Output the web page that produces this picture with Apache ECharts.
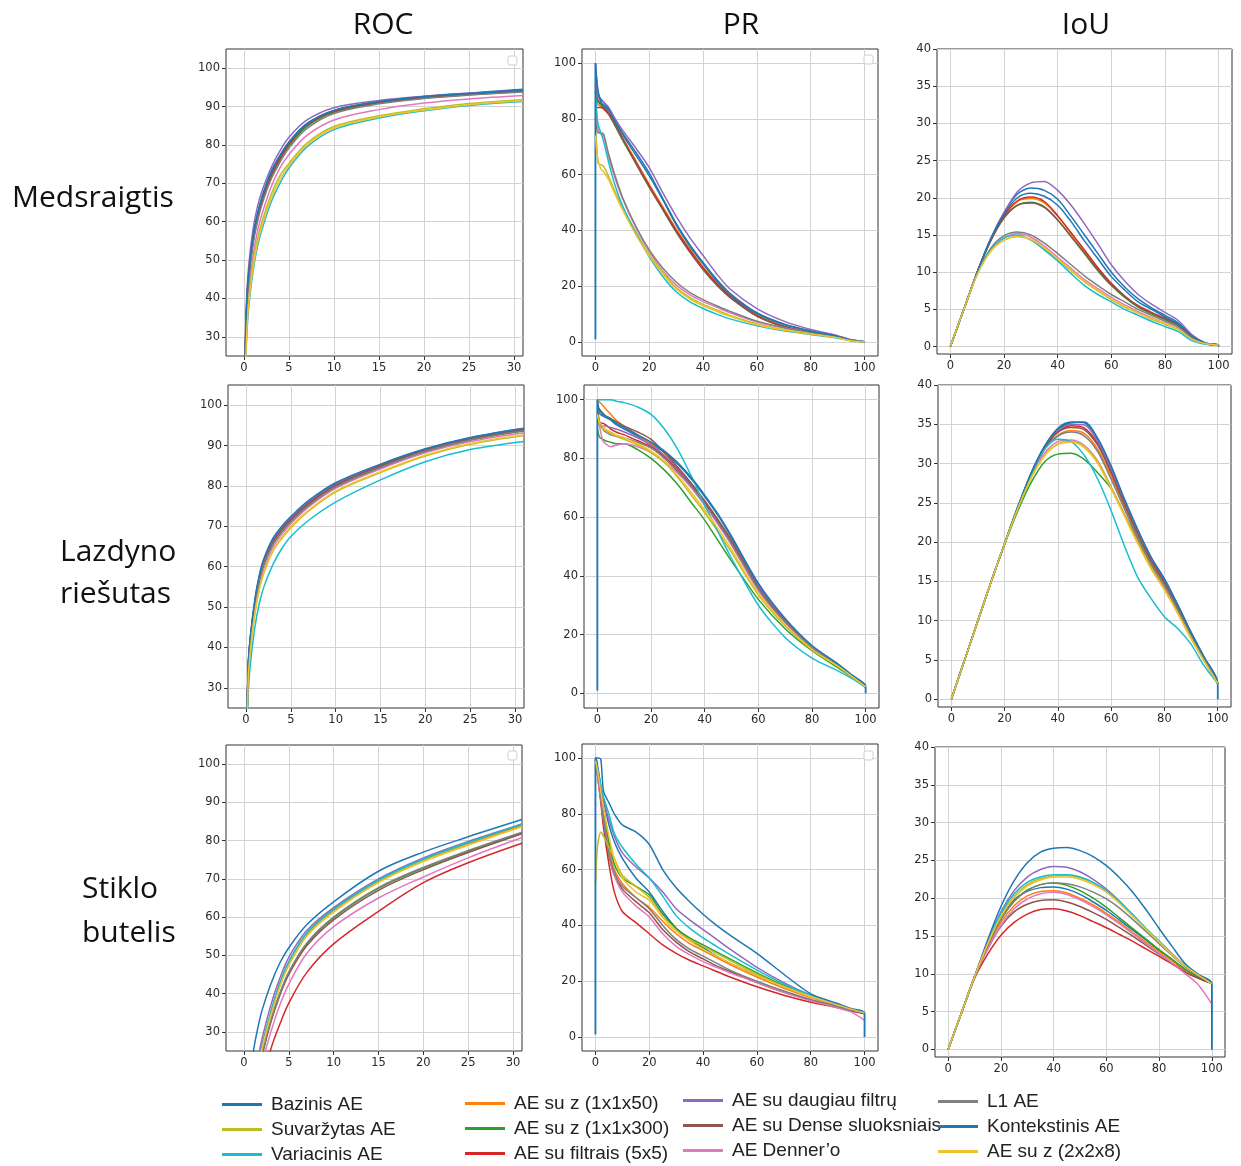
<!DOCTYPE html>
<html>
<head>
<meta charset="utf-8">
<script src="https://cdn.jsdelivr.net/npm/echarts@6/dist/echarts.min.js"></script>
<style>
  html, body { margin: 0; padding: 0; background: #fff; }
  #chart { width: 1241px; height: 1166px; }
</style>
</head>
<body>
<div id="chart"></div>
<script>
// series order follows the matplotlib colour cycle
const seriesNames = ['Bazinis AE', 'AE su z (1x1x50)', 'AE su z (1x1x300)', 'AE su filtrais (5x5)',
    'AE su daugiau filtrų', 'AE su Dense sluoksniais', 'AE Denner’o', 'L1 AE',
    'Suvaržytas AE', 'Variacinis AE', 'Kontekstinis AE', 'AE su z (2x2x8)'];
const seriesColors = ['#1f77b4', '#ff7f0e', '#2ca02c', '#d62728', '#9467bd', '#8c564b',
    '#e377c2', '#7f7f7f', '#bcbd22', '#17becf', '#1f77b4', '#f2c12e'];

const legendColumns = [
    ['Bazinis AE', 'Suvaržytas AE', 'Variacinis AE'],
    ['AE su z (1x1x50)', 'AE su z (1x1x300)', 'AE su filtrais (5x5)'],
    ['AE su daugiau filtrų', 'AE su Dense sluoksniais', 'AE Denner’o'],
    ['L1 AE', 'Kontekstinis AE', 'AE su z (2x2x8)']
];

const colTitles = ['ROC', 'PR', 'IoU'];
const rowTitles = [['Medsraigtis'], ['Lazdyno', 'riešutas'], ['Stiklo', 'butelis']];

// x samples of each metric
const rocX = [0, 0.25, 0.5, 1, 1.5, 2, 3, 4, 5, 7, 10, 15, 20, 25, 31];
const prX = [0, 0, 0.5, 1, 2, 3, 5, 7, 10, 15, 20, 25, 30, 35, 40, 45, 50, 60, 70, 80, 90, 95, 100, 100];
const iouX = [0, 5, 10, 15, 20, 25, 30, 35, 40, 45, 50, 55, 60, 65, 70, 75, 80, 85, 90, 95, 100, 100];

// tick labels
const rocTicksX = [0, 5, 10, 15, 20, 25, 30];
const rocTicksY = [30, 40, 50, 60, 70, 80, 90, 100];
const pctTicks = [0, 20, 40, 60, 80, 100];
const iouTicksY = [0, 5, 10, 15, 20, 25, 30, 35, 40];

// ---- Medsraigtis ----
const rocMedsraigtis = [
    [9, 36, 46, 56, 62, 66.5, 73, 77.3, 80.8, 85.6, 89, 91.3, 92.6, 93.5, 94.5],
    [8, 35, 45, 55, 61, 65.5, 72, 76.5, 80, 85, 88.7, 91, 92.3, 93.2, 94],
    [8, 34, 44.5, 54.5, 60.5, 65, 71.5, 76, 79.7, 84.8, 88.5, 90.9, 92.2, 93.1, 93.9],
    [8, 35, 45, 55, 61, 65.5, 72, 76.5, 80.2, 85.2, 88.8, 91.1, 92.4, 93.2, 94],
    [10, 38, 48, 58, 64, 68, 74, 78.5, 82, 86.5, 89.7, 91.6, 92.7, 93.5, 94.3],
    [9, 35.5, 45.5, 55.5, 61.5, 66, 72.5, 77, 80.5, 85.3, 88.9, 91.2, 92.5, 93.3, 94.1],
    [6, 31, 41, 51, 57.5, 62, 69, 74, 77.5, 82.5, 86.5, 89.2, 90.9, 92, 92.9],
    [8, 34, 44, 54, 60, 64.5, 71, 75.5, 79.2, 84.3, 88.2, 90.7, 92.1, 93, 93.8],
    [5, 29, 39, 49, 55.5, 60, 67, 72, 75.2, 80.5, 84.8, 87.6, 89.4, 90.8, 91.8],
    [4, 27, 37, 47, 53.5, 58, 65, 70, 74, 79.5, 84, 87, 88.9, 90.3, 91.3],
    [9, 36, 46, 56, 62, 66.3, 72.8, 77.2, 80.7, 85.5, 89, 91.3, 92.6, 93.4, 94.3],
    [5, 28, 38, 48, 54.5, 59, 66, 71, 74.6, 80, 84.4, 87.3, 89.1, 90.5, 91.5]
];
const prMedsraigtis = [
    [1, 100, 93, 89, 87, 86, 83.5, 80, 75, 68, 60.5, 51.5, 42.5, 35, 28.5, 22.5, 17.5, 10.5, 6.5, 4, 2.1, 0.7, 0.1, 0],
    [null, 88, 86, 85, 84.5, 84, 82, 79, 73.5, 65, 56.5, 48.5, 40.5, 33.5, 27, 21.5, 17, 9.8, 5.8, 3.5, 1.8, 0.6, 0.1, null],
    [null, 90, 87, 86, 85, 84, 81.5, 78, 72.5, 64, 55.5, 47.5, 39.5, 32.5, 26, 20.5, 16, 9.3, 5.5, 3.3, 1.7, 0.6, 0.1, null],
    [null, 84, 84, 84, 84, 83.5, 81.5, 78.5, 73, 64.5, 56, 48, 40, 33, 26.5, 21, 16.5, 9.5, 5.6, 3.4, 1.7, 0.6, 0.1, null],
    [null, 100, 92, 88, 86.5, 86, 84, 80.5, 76, 69.5, 62.5, 53.5, 45, 37.5, 31, 24.5, 19, 12, 7.5, 4.5, 2.3, 0.8, 0.1, null],
    [null, 92, 88, 86.5, 85.5, 84.5, 82, 78.5, 73, 64, 55.5, 47.5, 39.5, 32.3, 26, 20.5, 16, 9.3, 5.5, 3.3, 1.7, 0.6, 0.1, null],
    [null, 85, 80, 76, 74.5, 74, 66, 59.5, 51.5, 41, 32.5, 25.5, 20.5, 17, 14.5, 12.5, 10.5, 7.2, 5, 3.3, 1.7, 0.5, 0.1, null],
    [null, 80, 76, 75, 75, 74.5, 67, 60.5, 52, 41.5, 33, 26.5, 21.5, 17.8, 15.2, 13, 11, 7.5, 5.2, 3.4, 1.8, 0.6, 0.1, null],
    [null, 76, 70, 64, 63.5, 63, 59, 54.5, 48.5, 39.5, 31.5, 25, 19.5, 16, 13.5, 11.5, 9.5, 6.5, 4.5, 3, 1.6, 0.5, 0.1, null],
    [null, 90, 82, 78, 75, 72, 64, 57, 49, 39, 30.5, 23.5, 18, 14.5, 12, 10, 8.3, 5.8, 4, 2.7, 1.4, 0.5, 0.1, null],
    [1, 100, 94, 90, 86, 85, 83, 79.5, 74.5, 67, 59.5, 51, 42, 34.5, 28, 22, 17, 10.2, 6.3, 3.9, 2, 0.7, 0.1, 0],
    [null, 74, 68, 65, 62, 61, 58, 53.5, 47.5, 38.5, 31, 24.5, 19, 15.5, 13, 11, 9.2, 6.2, 4.3, 2.9, 1.5, 0.5, 0.1, null]
];
const iouMedsraigtis = [
    [0, 5, 10, 14.5, 18, 20.5, 21.3, 21, 19.8, 17.5, 15, 12.5, 10, 8, 6.4, 5.2, 4.2, 3.2, 1.5, 0.5, 0.2, 0],
    [0, 5, 10, 14.3, 17.5, 19.5, 19.9, 19.3, 17.5, 15.2, 12.9, 10.5, 8.4, 6.7, 5.4, 4.5, 3.7, 2.9, 1.3, 0.4, 0.2, null],
    [0, 5, 10, 14.2, 17.3, 19, 19.4, 18.8, 17, 14.8, 12.5, 10.2, 8.2, 6.6, 5.3, 4.4, 3.6, 2.8, 1.2, 0.4, 0.2, null],
    [0, 5, 10, 14.3, 17.6, 19.6, 20.1, 19.5, 17.6, 15.3, 13, 10.6, 8.5, 6.8, 5.5, 4.6, 3.8, 3, 1.3, 0.4, 0.2, null],
    [0, 5, 10, 14.5, 18, 20.8, 22, 22.2, 21, 19, 16.5, 13.8, 11, 8.8, 7, 5.7, 4.6, 3.5, 1.6, 0.5, 0.2, null],
    [0, 5, 10, 14.2, 17.3, 19, 19.3, 18.7, 17, 14.8, 12.6, 10.3, 8.3, 6.7, 5.4, 4.5, 3.7, 2.9, 1.3, 0.4, 0.2, null],
    [0, 5, 9.8, 13, 14.6, 15.2, 14.7, 13.5, 12, 10.5, 9, 7.8, 6.6, 5.6, 4.7, 3.9, 3.1, 2.4, 1.1, 0.4, 0.2, null],
    [0, 5, 9.8, 13.2, 14.9, 15.4, 15, 13.9, 12.5, 11, 9.5, 8.2, 7, 6, 5, 4.2, 3.4, 2.6, 1.2, 0.4, 0.2, null],
    [0, 5, 9.7, 12.8, 14.3, 14.8, 14.4, 13.2, 11.7, 10.2, 8.7, 7.5, 6.3, 5.3, 4.5, 3.7, 3, 2.3, 1, 0.4, 0.2, null],
    [0, 5, 9.8, 13, 14.6, 15, 14.3, 13, 11.5, 9.8, 8.2, 7, 6, 5, 4.2, 3.4, 2.7, 2, 0.8, 0.3, 0.2, null],
    [0, 5, 10, 14.4, 17.8, 20, 20.6, 20.2, 19, 16.8, 14.2, 11.8, 9.4, 7.6, 6, 5, 4, 3, 1.4, 0.5, 0.2, 0],
    [0, 5, 9.7, 12.8, 14.3, 14.8, 14.4, 13.3, 11.8, 10.3, 8.8, 7.6, 6.4, 5.4, 4.5, 3.8, 3.1, 2.3, 1, 0.4, 0.2, null]
];

// ---- Lazdyno riešutas ----
const rocLazdyno = [
    [5, 35, 42.5, 51.5, 57.5, 61.5, 66.5, 69.5, 72, 76, 80.5, 85.2, 89.1, 91.9, 94.2],
    [5, 34.5, 42, 51, 57, 61, 66, 69, 71.5, 75.5, 80, 84.8, 88.8, 91.6, 93.9],
    [5, 34, 41.5, 50.5, 56.5, 60.5, 65.5, 68.6, 71, 75, 79.6, 84.4, 88.4, 91.3, 93.6],
    [5, 35, 42, 51, 57, 61, 66, 69, 71.5, 75.6, 80.1, 84.9, 88.9, 91.7, 94],
    [5, 35, 42.5, 51.5, 57.5, 61.5, 66.5, 69.6, 72, 76, 80.4, 85.1, 89, 91.8, 94.1],
    [5, 34.5, 42, 51, 57, 61, 66, 69.2, 71.7, 75.7, 80.2, 85, 88.9, 91.7, 94],
    [4, 33, 40.5, 49.5, 55.5, 59.5, 64.8, 68, 70.6, 74.8, 79.4, 84.2, 88.2, 91, 93.2],
    [5, 34, 41.5, 50.5, 56.5, 60.5, 65.5, 68.7, 71.2, 75.2, 79.8, 84.6, 88.6, 91.4, 93.7],
    [4, 32, 39.5, 48.5, 54.5, 58.5, 63.8, 67, 69.6, 73.8, 78.5, 83.3, 87.4, 90.3, 92.5],
    [3, 28, 36, 45, 51, 55, 60.5, 64.5, 67.5, 71.5, 76, 81.5, 86, 89, 91],
    [5, 35.5, 43, 52, 58, 62, 67, 70, 72.4, 76.4, 80.8, 85.4, 89.2, 92, 94.3],
    [4, 32, 39.5, 48.5, 54.5, 58.5, 64, 67.3, 69.9, 74, 78.7, 83.5, 87.6, 90.5, 92.7]
];
const prLazdyno = [
    [1, 100, 96, 95, 94.5, 94, 93, 91.5, 90, 87.5, 85, 82, 78, 73, 67, 60.5, 53, 37, 25, 16, 9.5, 6, 2.5, 0],
    [null, 100, 99.5, 99, 98, 97, 95, 93, 91, 88, 85, 81, 76.5, 71.5, 65.5, 59, 52, 36, 24.5, 15.5, 9.3, 5.8, 2.3, null],
    [null, 90, 88, 87, 86.5, 86, 85.5, 85, 85, 83, 80, 76, 71, 65, 59, 52, 45, 32, 22, 14.5, 8.5, 5.5, 2, null],
    [null, 95, 93, 92, 92, 91.5, 90, 89, 88, 86, 84, 80.5, 76, 71, 65, 58.5, 51.5, 36, 24.5, 15.5, 9.3, 5.8, 2.3, null],
    [null, 96, 93, 92, 91, 91, 90.5, 90, 89, 87, 84.5, 81, 76.5, 71.5, 65.5, 59, 52, 36.5, 25, 15.8, 9.5, 6, 2.4, null],
    [null, 98, 97, 96.5, 95.5, 94.5, 93.5, 92.5, 91, 89, 86.5, 82, 77, 71.5, 65.5, 59, 52, 36, 24.5, 15.5, 9.3, 5.8, 2.3, null],
    [null, 93, 92, 90, 86, 85, 84, 84.5, 85, 84, 82, 79, 75, 70, 64, 57.5, 50.5, 35, 24, 15.5, 9.3, 5.8, 2.2, null],
    [null, 97, 94, 92, 90, 89, 88, 87.5, 87, 85.5, 83.5, 80, 75.5, 70.5, 64.5, 58, 51, 35.5, 24.2, 15.5, 9.3, 5.8, 2.3, null],
    [null, 94, 92, 91, 90, 89.5, 88.5, 87.5, 86.5, 84.5, 82, 78.5, 73.5, 67.5, 61.5, 55, 48, 33.5, 23, 14.8, 9, 5.6, 2.2, null],
    [null, 100, 100, 100, 100, 100, 100, 99.5, 99, 97.5, 95, 90, 83, 74, 64, 55, 46, 30, 19, 12, 7.5, 5, 2, null],
    [1, 100, 97, 96, 95, 94.5, 93.5, 92, 90.5, 88, 85.5, 82.5, 78.5, 73.5, 67.5, 61, 53.5, 37.5, 25.5, 16.3, 9.8, 6.2, 2.5, 0],
    [null, 95, 93, 92, 91, 90, 89, 88, 87, 85, 82.5, 79, 74, 68.5, 62.5, 56, 49, 34, 23.5, 15, 9, 5.7, 2.2, null]
];
const iouLazdyno = [
    [0, 5, 10, 15, 19.8, 24.5, 28.8, 32.2, 34.5, 35.3, 35.2, 33, 29.5, 25.3, 21.5, 18, 15.3, 12, 8.5, 5.3, 2, 0],
    [0, 5, 10, 15, 19.8, 24.5, 28.6, 31.8, 33.6, 34.2, 33.8, 31.8, 28.4, 24.5, 20.8, 17.4, 14.6, 11.5, 8.2, 5, 2, null],
    [0, 5, 10, 15, 19.7, 24, 27.6, 30.2, 31.2, 31.3, 30.5, 28.8, 26.8, 23.5, 20.3, 17, 14.2, 11.2, 8, 4.9, 2, null],
    [0, 5, 10, 15, 19.8, 24.5, 28.7, 32, 34, 34.8, 34.5, 32.5, 29, 25, 21.2, 17.8, 15, 11.8, 8.4, 5.2, 2, null],
    [0, 5, 10, 15, 19.8, 24.5, 28.8, 32.1, 34.2, 35, 34.9, 32.8, 29.3, 25.2, 21.4, 18, 15.2, 11.9, 8.4, 5.2, 2, null],
    [0, 5, 10, 15, 19.8, 24.5, 28.7, 32, 34, 34.6, 34.3, 32.3, 28.8, 24.8, 21, 17.6, 14.8, 11.6, 8.3, 5.1, 2, null],
    [0, 5, 10, 15, 19.8, 24.4, 28.4, 31.3, 32.8, 33, 32.3, 30.3, 27, 23.5, 20, 16.8, 14.2, 11.2, 8, 4.9, 2, null],
    [0, 5, 10, 15, 19.8, 24.5, 28.6, 31.8, 33.5, 34, 33.5, 31.5, 28, 24.2, 20.5, 17.2, 14.5, 11.4, 8.1, 5, 2, null],
    [0, 5, 10, 15, 19.8, 24.3, 28.2, 31, 32.5, 32.8, 32.2, 30.2, 27, 23.5, 20, 16.8, 14, 11, 7.8, 4.8, 2, null],
    [0, 5, 10, 15, 19.8, 24.5, 28.7, 31.8, 33.1, 32.8, 31, 28, 24, 19.5, 15.5, 12.8, 10.5, 9, 7, 4.2, 2, null],
    [0, 5, 10, 15, 19.8, 24.5, 28.8, 32.2, 34.4, 35.2, 35.3, 33.2, 29.7, 25.5, 21.6, 18.1, 15.3, 12, 8.5, 5.3, 2, 0],
    [0, 5, 10, 15, 19.8, 24.3, 28.2, 31, 32.4, 32.7, 32, 30, 26.8, 23.3, 19.8, 16.6, 13.9, 10.9, 7.7, 4.8, 2, null]
];

// ---- Stiklo butelis ----
const rocStiklo = [
    [0, 3, 6, 13, 20, 26, 35, 42.5, 48.2, 55.7, 62, 69.6, 75.1, 79.4, 84.2],
    [0, 3, 6, 13, 20, 26, 35, 42.5, 48, 55.5, 61.8, 69.5, 75, 79.2, 84],
    [0, 2, 5, 11, 18, 24, 33, 40, 45.5, 53, 59.8, 67.5, 72.8, 77.2, 82],
    [0, 1, 3, 6, 10, 16, 25.5, 32, 37.5, 45.5, 53, 61.5, 69, 74.2, 79.3],
    [0, 3, 7, 15, 22, 28, 37, 44, 49.5, 56.5, 62.5, 70, 75.5, 79.8, 84.3],
    [0, 2, 4.5, 10.5, 17.5, 23.5, 32.5, 39.5, 45, 52.5, 59.3, 67, 72.4, 76.9, 81.8],
    [0, 2, 4, 9, 15.5, 21.5, 30, 37, 42.5, 50.5, 57.5, 65, 70.5, 75.5, 80.8],
    [0, 2, 5, 11, 18, 24, 33, 40, 45.6, 53.2, 60, 67.7, 73, 77.4, 82.2],
    [0, 3, 6, 12.5, 19.5, 25.5, 34.5, 42, 47.6, 55.2, 61.5, 69.3, 74.8, 79, 83.8],
    [0, 3, 6, 13, 20, 26, 35.2, 42.7, 48.3, 55.8, 62, 69.7, 75.2, 79.5, 84.4],
    [0, 5, 12, 24, 30.5, 35.5, 42.5, 48, 52, 58, 64, 72, 77, 81, 85.5],
    [0, 3, 6, 12.5, 19.5, 25.5, 34.3, 41.8, 47.3, 55, 61.3, 69, 74.5, 78.8, 83.6]
];
const prStiklo = [
    [1, 100, 99, 96, 90, 85, 76, 70, 64, 57, 52, 45, 39, 35, 32, 29, 26.5, 22, 18, 14.5, 11.5, 10, 8.7, 0],
    [null, 99, 97, 94, 87, 80, 68, 60, 55, 50, 46.5, 41.5, 37, 33.5, 31, 28.5, 26, 21.5, 17.5, 14.2, 11.3, 9.8, 8.6, null],
    [null, 99, 97, 94, 88, 82, 70, 62, 57, 54, 51, 44, 39, 35.5, 33, 30.5, 28, 23, 18.5, 14.8, 11.7, 10, 8.7, null],
    [null, 99, 96, 92, 84, 75, 62, 52, 45, 41, 37, 33, 30, 27.5, 25.5, 23.5, 21.5, 18, 15, 12.5, 10.5, 9.3, 8.3, null],
    [null, 99, 97, 95, 90, 85, 78, 72, 66, 61, 57, 52, 46, 42, 38.5, 35, 31.5, 25, 19.5, 15, 11.5, 10, 8.7, null],
    [null, 99, 96, 92, 85, 77, 65, 58, 53, 48.5, 44.5, 38.5, 34, 30.5, 28, 25.5, 23.5, 19.5, 16, 13.2, 10.8, 9.6, 8.5, null],
    [null, 99, 96, 92, 85, 78, 66, 58, 52, 47, 43, 37, 32.5, 29.5, 27, 25, 23, 19.5, 16, 13, 10.5, 9, 6, null],
    [null, 99, 97, 93, 86, 78, 66, 59, 54, 50, 46, 40, 35, 31.5, 29, 26.5, 24, 20, 16.5, 13.5, 11, 9.7, 8.6, null],
    [null, 55, 65, 70, 73.5, 72, 68, 64, 58, 54, 50, 43, 38, 35, 32.5, 30, 27.5, 22.5, 18, 14.5, 11.5, 10, 8.7, null],
    [null, 98, 97, 95, 90, 86, 80, 73, 68, 62, 57, 50.5, 43.5, 39, 35.5, 32.5, 29.5, 24, 19, 15, 11.5, 10, 8.7, null],
    [1, 100, 100, 100, 99.5, 88, 84, 80, 76, 73.5, 69, 60, 53.5, 48.5, 44, 40, 36.5, 30, 22.5, 15.5, 12, 10.2, 8.7, 0],
    [null, 99, 97, 94, 88, 82, 72, 64, 57, 52, 49, 43, 38, 34.5, 31.5, 29, 26.5, 22, 18, 14.5, 11.5, 10, 8.7, null]
];
const iouStiklo = [
    [0, 4.8, 9.6, 14, 17.6, 19.8, 20.9, 21.4, 21.5, 21.2, 20.5, 19.5, 18.4, 17.1, 15.8, 14.5, 13.1, 11.8, 10.5, 9.6, 8.7, 0],
    [0, 4.8, 9.6, 13.6, 16.8, 19, 20.3, 20.9, 21, 20.7, 20, 19.1, 18, 16.8, 15.5, 14.2, 12.9, 11.7, 10.4, 9.5, 8.7, null],
    [0, 4.8, 9.6, 13.8, 17.2, 19.6, 21.1, 21.8, 22, 21.7, 21, 20, 18.8, 17.4, 16, 14.6, 13.2, 11.9, 10.6, 9.6, 8.7, null],
    [0, 4.8, 9.4, 12.6, 15.1, 16.8, 17.9, 18.5, 18.6, 18.3, 17.7, 16.9, 16.1, 15.2, 14.3, 13.3, 12.3, 11.3, 10.2, 9.4, 8.7, null],
    [0, 4.8, 9.6, 14.2, 18.2, 21, 22.8, 23.8, 24.2, 24.1, 23.5, 22.5, 21.2, 19.6, 17.8, 16, 14.3, 12.6, 11, 9.8, 8.7, null],
    [0, 4.8, 9.6, 13.3, 16.3, 18.2, 19.2, 19.7, 19.8, 19.5, 18.9, 18.1, 17.2, 16.1, 15, 13.8, 12.6, 11.4, 10.2, 9.4, 8.7, null],
    [0, 4.8, 9.6, 13.3, 16.4, 18.6, 19.9, 20.6, 20.8, 20.5, 19.8, 18.9, 17.8, 16.6, 15.3, 14, 12.7, 11.4, 10, 8.5, 6, null],
    [0, 4.8, 9.6, 13.8, 17.2, 19.6, 21, 21.8, 22, 21.9, 21.5, 20.8, 19.9, 18.7, 17.2, 15.6, 14, 12.4, 10.9, 9.8, 8.7, null],
    [0, 4.8, 9.6, 14, 17.8, 20.3, 21.8, 22.6, 22.9, 23, 22.7, 22, 21, 19.5, 17.8, 16, 14.3, 12.6, 11, 9.8, 8.7, null],
    [0, 4.8, 9.6, 14.2, 18, 20.6, 22.1, 22.8, 23.1, 23.1, 22.8, 22.1, 21, 19.5, 17.8, 16, 14.3, 12.6, 11, 9.8, 8.7, null],
    [0, 4.8, 9.6, 14.5, 18.9, 22.3, 24.7, 26.1, 26.6, 26.7, 26.3, 25.5, 24.3, 22.7, 20.8, 18.5, 16, 13.6, 11.3, 9.9, 8.7, 0],
    [0, 4.8, 9.6, 14, 17.6, 20.1, 21.6, 22.4, 22.8, 22.8, 22.5, 21.8, 20.8, 19.3, 17.6, 15.9, 14.2, 12.5, 11, 9.8, 8.7, null]
];

const panelData = [
    [rocMedsraigtis, prMedsraigtis, iouMedsraigtis],
    [rocLazdyno, prLazdyno, iouLazdyno],
    [rocStiklo, prStiklo, iouStiklo]
];

// ---------- layout ----------
const gridRects = [
    [[226, 49, 297, 307], [582, 49, 296, 307], [937, 49, 295, 305]],
    [[228, 385, 296, 323], [584, 385, 295, 323], [938, 385, 293, 322]],
    [[226, 745, 296, 306], [582, 744, 296, 307], [935, 747, 290, 310]]
];
const axisSpec = [
    { x: rocX, xMin: -2, xMax: 31, xTicks: rocTicksX, yMin: 25, yMax: 105, yTicks: rocTicksY, smooth: 0.35 },
    { x: prX, xMin: -5, xMax: 105, xTicks: pctTicks, yMin: -5, yMax: 105, yTicks: pctTicks, smooth: 0.25 },
    { x: iouX, xMin: -5, xMax: 105, xTicks: pctTicks, yMin: -1, yMax: 40, yTicks: iouTicksY, smooth: 0.3 }
];

const makeAxis = (idx, min, max, ticks) => ({
    type: 'value',
    gridIndex: idx,
    min: min,
    max: max,
    axisLine: { show: false, onZero: false },
    axisTick: { show: true, length: 4, customValues: ticks, lineStyle: { color: '#333', width: 1 } },
    axisLabel: { customValues: ticks, color: '#2a2a2a', fontSize: 11.5, fontFamily: 'DejaVu Sans', margin: 6 },
    splitLine: { show: true, lineStyle: { color: '#d2d2d2', width: 1 } }
});

const grids = [], xAxes = [], yAxes = [], series = [];
panelData.forEach((row, r) => {
    row.forEach((curves, c) => {
        const idx = r * 3 + c;
        const spec = axisSpec[c];
        const rect = gridRects[r][c];
        grids.push({
            left: rect[0], top: rect[1], width: rect[2], height: rect[3],
            show: true, borderColor: '#333', borderWidth: 1, backgroundColor: '#fff',
            containLabel: false, outerBoundsMode: 'none'
        });
        xAxes.push(makeAxis(idx, spec.xMin, spec.xMax, spec.xTicks));
        yAxes.push(makeAxis(idx, spec.yMin, spec.yMax, spec.yTicks));
        curves.forEach((ys, s) => {
            series.push({
                type: 'line',
                name: seriesNames[s],
                xAxisIndex: idx,
                yAxisIndex: idx,
                data: spec.x.map((x, k) => [x, ys[k]]),
                showSymbol: false,
                symbol: 'none',
                smooth: spec.smooth,
                color: seriesColors[s],
                itemStyle: { color: seriesColors[s] },
                lineStyle: { width: 1.5, color: seriesColors[s] },
                clip: true,
                silent: true
            });
        });
    });
});

// legend columns
const legendLeft = [222, 465, 683, 938];
const legendTop = [1095, 1094, 1091, 1092];
const legends = legendColumns.map((names, i) => ({
    data: names,
    orient: 'vertical',
    left: legendLeft[i],
    top: legendTop[i],
    padding: 0,
    itemGap: 6,
    itemWidth: 40,
    itemHeight: 3,
    icon: 'rect',
    selectedMode: false,
    textStyle: { fontSize: 19, lineHeight: 19, fontFamily: 'Liberation Sans', color: '#222', padding: [0, 0, 0, 4] }
}));

// titles and row labels
const textStyle = (t, align) => ({
    text: t, font: '30px "Open Sans"', fill: '#111',
    align: align, textAlign: align, verticalAlign: 'middle', textVerticalAlign: 'middle'
});
const colTitleX = [383, 741, 1086];
const rowLabelPos = [[[12, 198]], [[60, 552], [60, 594]], [[82, 889], [82, 933]]];
const graphics = [];
colTitles.forEach((t, i) => graphics.push({ type: 'text', x: colTitleX[i], y: 25, style: textStyle(t, 'center') }));
rowTitles.forEach((lines, r) => lines.forEach((t, j) => {
    graphics.push({ type: 'text', x: rowLabelPos[r][j][0], y: rowLabelPos[r][j][1], style: textStyle(t, 'left') });
}));
// empty legend boxes left by matplotlib
[[508, 56], [864, 55], [508, 751], [864, 751]].forEach(p => {
    graphics.push({ type: 'rect', shape: { x: p[0], y: p[1], width: 9, height: 9, r: 2 },
        style: { fill: '#fff', stroke: '#cfcfcf', lineWidth: 1 }, z: 100 });
});

const chart = echarts.init(document.getElementById('chart'));
chart.setOption({
    animation: false,
    backgroundColor: '#fff',
    grid: grids,
    xAxis: xAxes,
    yAxis: yAxes,
    legend: legends,
    graphic: graphics,
    series: series
});
</script>
</body>
</html>
